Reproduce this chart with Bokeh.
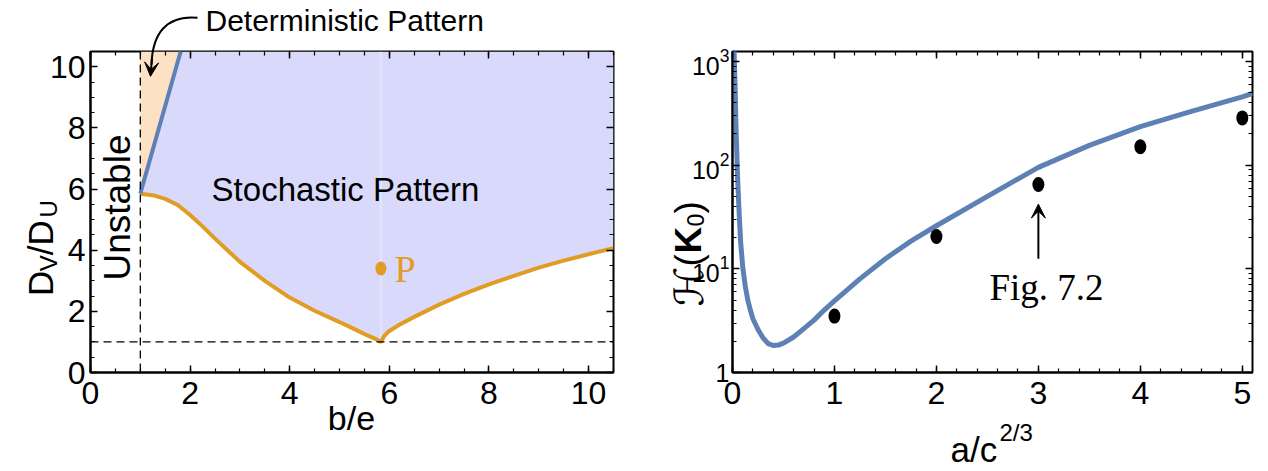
import math
from bokeh.plotting import figure
from bokeh.models import (Range1d, LinearAxis, LogAxis, FixedTicker, Arrow, VeeHead, Span,
                          CustomLabelingPolicy)
from bokeh.layouts import row
from bokeh.embed import file_html
from bokeh.resources import INLINE
from bokeh.core.properties import value

# ---------------- data: left panel (phase diagram) ----------------
orange_x = [1.0, 1.25, 1.5, 1.75, 2.0, 2.25, 2.5, 2.75, 3.0, 3.5, 4.0, 4.5, 5.0, 5.3,
            5.55, 5.72, 5.83, 5.9, 6.0, 6.2, 6.5, 7.0, 7.5, 8.0, 8.5, 9.0, 9.5, 10.0, 10.5]
orange_y = [5.85, 5.8, 5.68, 5.48, 5.15, 4.78, 4.38, 4.0, 3.62, 3.0, 2.45, 2.02, 1.65,
            1.42, 1.22, 1.1, 1.0, 1.2, 1.36, 1.56, 1.82, 2.22, 2.57, 2.88, 3.16, 3.43,
            3.66, 3.87, 4.07]
blue_x = [1.0, 1.81]
blue_y = [5.85, 10.5]
unstable_b = 1.0
threshold_d = 1.0
P_x = [5.83]
P_y = [3.4]
left_xmax = 10.5
left_ymax = 10.5

# ---------------- data: right panel ----------------
h_x = [0.015, 0.025, 0.035, 0.05, 0.065, 0.08, 0.1, 0.125, 0.15, 0.175, 0.2, 0.25, 0.3,
       0.35, 0.4, 0.45, 0.5, 0.6, 0.7, 0.8, 0.9, 1.0, 1.25, 1.5, 1.75, 2.0, 2.5, 3.0,
       3.5, 4.0, 4.5, 5.0, 5.1]
h_y = [1300, 600, 220, 75, 35, 18, 10.5, 6.8, 5.0, 4.0, 3.3, 2.6, 2.15, 1.9, 1.82, 1.84,
       1.92, 2.2, 2.65, 3.2, 4.0, 4.9, 8.0, 12.5, 18.5, 26, 50, 95, 155, 235, 330, 455, 490]
dots_x = [1, 2, 3, 4, 5]
dots_y = [3.5, 20.5, 65, 150, 285]
right_xmax = 5.1
right_ymin, right_ymax = 1, 1245
fig_ref_x = 3
fig_ref_tail, fig_ref_head = 12.5, 42

# ---------------- style ----------------
SANS = "Liberation Sans"
SERIF = "Liberation Serif"
ORANGE = "#e19c24"
BLUE = "#5e81b5"
LAVENDER = "#d9d9fb"
PEACH = "#fde1c4"

W1, W2, H = 633, 635, 471
L1, T1, FW1, FH1 = 90, 49, 523, 323
L2, T2, FW2, FH2 = 99, 51, 520, 321
FX1 = 90      # page x of left frame's left edge
FX2 = 732     # page x of right frame's left edge
FB = 372      # page y of frame bottoms


def style_axis(ax, size="32px"):
    ax.axis_line_color = "black"
    ax.axis_line_width = 2
    ax.major_tick_in = 7
    ax.major_tick_out = 0
    ax.minor_tick_in = 4
    ax.minor_tick_out = 0
    ax.major_tick_line_width = 1.5
    ax.minor_tick_line_width = 1.2
    ax.major_label_text_font = SANS
    ax.major_label_text_font_size = size
    ax.major_label_text_color = "black"


def mirror(ax):
    ax.major_label_text_font_size = "1px"
    ax.major_label_standoff = 0
    ax.axis_line_color = None
    ax.major_label_policy = CustomLabelingPolicy(code="return new Set()")


def add_text(p, x, y, text, font=SANS, size=32, color="black", align="center",
             baseline="middle", angle=0.0, style="normal"):
    r = p.text(x=[x], y=[y], text=[text], text_font=value(font),
               text_font_size=value(f"{size}px"), text_color=color, text_align=align,
               text_baseline=baseline, angle=angle, text_font_style=value(style))
    r.level = "overlay"
    return r


# ================= left figure =================
p1 = figure(width=W1, height=H, x_range=Range1d(0, left_xmax), y_range=Range1d(0, left_ymax),
            output_backend="svg", toolbar_location=None,
            min_border_left=L1, min_border_right=W1 - L1 - FW1,
            min_border_top=T1, min_border_bottom=H - T1 - FH1)
p1.grid.visible = False
p1.outline_line_color = "black"
p1.outline_line_width = 2

tick1 = FixedTicker(ticks=[0, 2, 4, 6, 8, 10], minor_ticks=[i * 0.5 for i in range(22)])
for ax in p1.xaxis + p1.yaxis:
    ax.ticker = tick1
    style_axis(ax)
p1.xaxis.major_label_standoff = 9
p1.yaxis.major_label_standoff = 5
for side in ("above", "right"):
    ax = LinearAxis(ticker=tick1)
    style_axis(ax)
    mirror(ax)
    p1.add_layout(ax, side)


def X1(px):
    return (px - FX1) * left_xmax / FW1


def Y1(py):
    return (FB - py) * left_ymax / FH1


lav_x = blue_x + [left_xmax] + orange_x[::-1]
lav_y = blue_y + [left_ymax] + orange_y[::-1]
p1.patch(lav_x, lav_y, fill_color=LAVENDER, line_color=None)
p1.patch([blue_x[0], blue_x[0], blue_x[1]], [blue_y[0], blue_y[1], blue_y[1]],
         fill_color=PEACH, line_color=None)
p1.line([P_x[0], P_x[0]], [orange_y[orange_x.index(P_x[0])], left_ymax],
        line_color="#eeeefc", line_width=1)

p1.add_layout(Span(location=unstable_b, dimension="height", line_color="black",
                   line_width=1.3, line_dash="8 5"))
p1.add_layout(Span(location=threshold_d, dimension="width", line_color="black",
                   line_width=1.3, line_dash="8 5"))

p1.line(orange_x, orange_y, line_color=ORANGE, line_width=4)
p1.line(blue_x, blue_y, line_color=BLUE, line_width=4)
p1.ellipse(P_x, P_y, width=11, height=14, width_units="screen", height_units="screen",
           fill_color=ORANGE, line_color=None)

add_text(p1, X1(394), P_y[0], "P", font=SERIF, size=38, color=ORANGE, align="left")
add_text(p1, X1(345), Y1(188), "Stochastic Pattern", size=33)
add_text(p1, X1(117), Y1(206), "Unstable", size=37, angle=math.pi / 2)
add_text(p1, X1(205), Y1(18), "Deterministic Pattern", size=30, align="left")
add_text(p1, X1(351), Y1(418), "b/e", size=34)

# curved arrow to the deterministic region
bz = p1.bezier(x0=[X1(197)], y0=[Y1(15)], x1=[X1(151)], y1=[Y1(62)],
               cx0=[X1(165)], cy0=[Y1(12)], cx1=[X1(152)], cy1=[Y1(32)],
               line_color="black", line_width=2)
bz.level = "overlay"
p1.add_layout(Arrow(x_start=X1(151.5), y_start=Y1(55), x_end=X1(150), y_end=Y1(74),
                    line_color="black", line_width=2,
                    end=VeeHead(size=14, fill_color="black", line_color="black")))

# y label D_V/D_U, composed (reads bottom to top)
for txt, fs, bx, by in [("D", 35, 40, 295), ("V", 24, 48, 270), ("/D", 35, 40, 254),
                        ("U", 24, 48, 216)]:
    add_text(p1, X1(bx), Y1(by), txt, size=fs, align="left", baseline="alphabetic",
             angle=math.pi / 2)

# ================= right figure =================
p2 = figure(width=W2, height=H, x_range=Range1d(0, right_xmax),
            y_range=Range1d(right_ymin, right_ymax), y_axis_type="log",
            output_backend="svg", toolbar_location=None,
            min_border_left=L2, min_border_right=W2 - L2 - FW2,
            min_border_top=T2, min_border_bottom=H - T2 - FH2)
p2.grid.visible = False
p2.outline_line_color = "black"
p2.outline_line_width = 2

xt2 = FixedTicker(ticks=[0, 1, 2, 3, 4, 5], minor_ticks=[i * 0.2 for i in range(26)])
yt2 = FixedTicker(ticks=[1, 10, 100, 1000],
                  minor_ticks=[m * 10 ** e for e in range(0, 4) for m in range(1, 10)])
for ax in p2.xaxis:
    ax.ticker = xt2
    style_axis(ax)
    ax.major_label_standoff = 9
for ax in p2.yaxis:
    ax.ticker = yt2
    style_axis(ax, "25px")
    ax.major_label_overrides = {1: "1"}
    ax.major_label_standoff = 3
axt = LinearAxis(ticker=xt2)
style_axis(axt)
mirror(axt)
p2.add_layout(axt, "above")
axr = LogAxis(ticker=yt2)
style_axis(axr)
mirror(axr)
p2.add_layout(axr, "right")


def X2(px):
    return (px - FX2) * right_xmax / FW2


def Y2(py):
    return right_ymin * 10 ** ((FB - py) * math.log10(right_ymax / right_ymin) / FH2)


p2.line(h_x, h_y, line_color=BLUE, line_width=5)
p2.ellipse(dots_x, dots_y, width=12, height=15, width_units="screen",
           height_units="screen", fill_color="black", line_color=None)

p2.add_layout(Arrow(x_start=fig_ref_x, y_start=fig_ref_tail, x_end=fig_ref_x,
                    y_end=fig_ref_head, line_color="black", line_width=2,
                    end=VeeHead(size=14, fill_color="black", line_color="black")))
add_text(p2, X2(1046), Y2(287), "Fig. 7.2", font=SERIF, size=37)

# x label a/c^(2/3)
add_text(p2, X2(950), Y2(449), "a/c", size=35, align="left", baseline="alphabetic")
add_text(p2, X2(999), Y2(432), "2/3", size=24, align="left", baseline="alphabetic")

# y label H(K0), composed (reads bottom to top)
for txt, fs, st, font, bx, by in [("ℋ", 40, "normal", "DejaVu Sans", 688, 306),
                                  ("(", 37, "normal", SANS, 688, 266),
                                  ("K", 37, "bold", SANS, 688, 253),
                                  ("0", 23, "normal", SANS, 695, 226),
                                  (")", 37, "normal", SANS, 688, 213)]:
    add_text(p2, X2(bx), Y2(by), txt, font=font, size=fs, style=st, align="left",
             baseline="alphabetic", angle=math.pi / 2)

layout = row(p1, p2)
open("out.html", "w").write(file_html(layout, INLINE))
